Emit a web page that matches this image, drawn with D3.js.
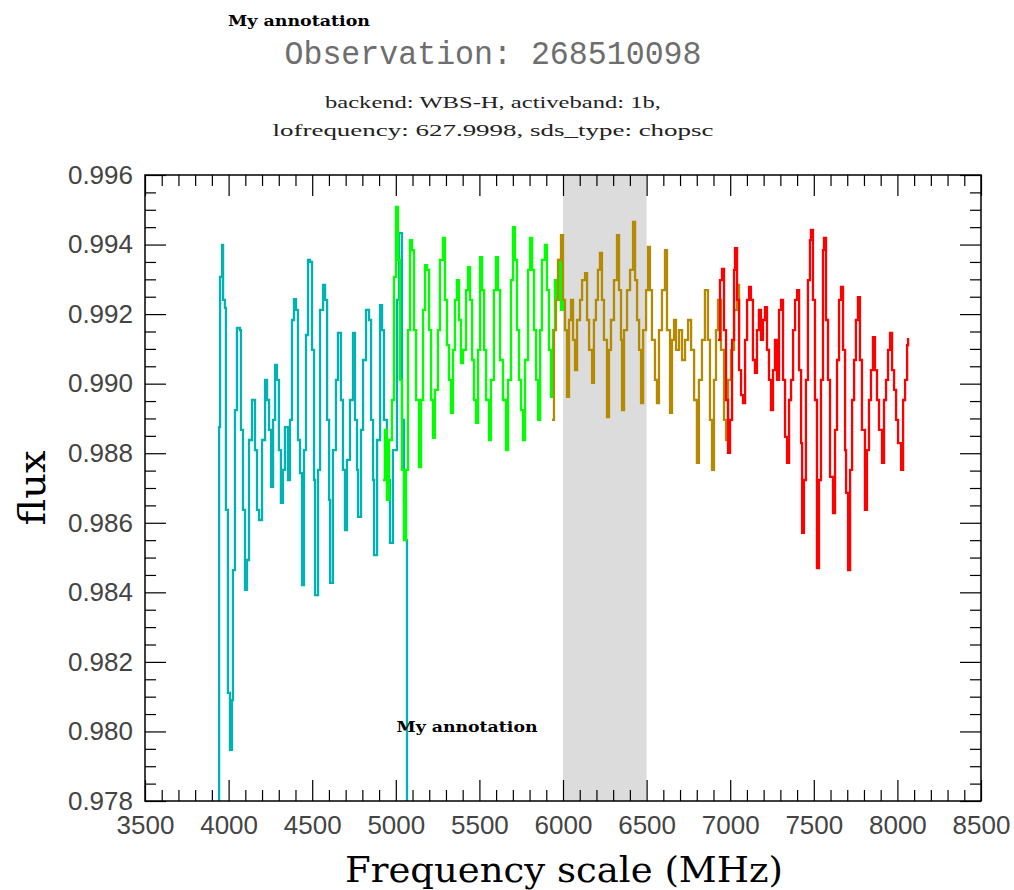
<!DOCTYPE html>
<html>
<head>
<meta charset="utf-8">
<script src="https://cdn.jsdelivr.net/npm/d3@7"></script>
<style>
  html, body { margin: 0; padding: 0; background: #fff; }
  svg { display: block; }
</style>
</head>
<body>
<script>
// ---------------- data ----------------
const cyanFreq = [3937,3943,3949,3961,3967,3978,3984,3996,4008,4020,4026,4038,4050,4068,4074,4086,4098,4110,4122,4140,4158,4170,4182,4200,4218,4230,4242,4254,4266,4278,4289,4301,4313,4325,4337,4355,4367,4379,4391,4403,4415,4427,4439,4451,4463,4475,4487,4499,4511,4517,4535,4547,4565,4577,4589,4601,4607,4624,4642,4654,4672,4684,4696,4708,4726,4744,4756,4768,4774,4792,4804,4822,4840,4852,4864,4870,4888,4906,4918,4929,4947,4965,4983,5007,5019,5037,5049,5061,5067];
const cyanFlux = [0.9752,0.98875,0.99307,0.99399,0.99241,0.99218,0.98637,0.98111,0.97947,0.98090,0.98464,0.98924,0.99160,0.99154,0.98867,0.98637,0.98407,0.98493,0.98838,0.98953,0.98809,0.98637,0.98608,0.98838,0.99011,0.98953,0.98867,0.98703,0.98896,0.99054,0.99011,0.98809,0.98657,0.98752,0.98875,0.98723,0.98896,0.99183,0.99243,0.99212,0.98838,0.98743,0.98421,0.98809,0.99140,0.99356,0.99350,0.99097,0.98723,0.98392,0.98752,0.99212,0.99284,0.99241,0.98896,0.98666,0.98427,0.98809,0.99011,0.99146,0.98953,0.98752,0.98579,0.98781,0.98953,0.99146,0.98896,0.98752,0.98617,0.98867,0.99068,0.99212,0.99183,0.98896,0.98723,0.98507,0.98838,0.99226,0.99154,0.98896,0.98723,0.98542,0.98809,0.99241,0.99433,0.98896,0.98666,0.98550,0.9752];

const greenFreq = [4923,4935,4947,4959,4977,4989,5001,5013,5025,5037,5049,5061,5073,5085,5097,5109,5121,5139,5151,5163,5175,5187,5199,5211,5223,5234,5252,5264,5282,5294,5306,5318,5330,5342,5354,5366,5378,5390,5402,5420,5432,5444,5456,5468,5480,5492,5504,5516,5528,5540,5558,5569,5587,5599,5611,5623,5641,5659,5671,5689,5701,5713,5725,5737,5749,5761,5773,5791,5803,5815,5827,5839,5851,5863,5874,5892,5904,5916,5928,5940,5952,5964,5976,5988,6000];
const greenFlux = [0.98723,0.98867,0.98666,0.98838,0.98953,0.99307,0.99508,0.99356,0.99011,0.98752,0.98550,0.98752,0.99154,0.99413,0.99384,0.99154,0.98953,0.98760,0.98953,0.99212,0.99341,0.99327,0.99154,0.98953,0.98844,0.98982,0.99154,0.99356,0.99419,0.99241,0.99111,0.99011,0.98916,0.99097,0.99241,0.99298,0.99183,0.99059,0.99097,0.99269,0.99335,0.99241,0.99068,0.98953,0.98887,0.99097,0.99364,0.99269,0.99097,0.98953,0.98838,0.99011,0.99269,0.99364,0.99269,0.99068,0.98953,0.98809,0.99011,0.99298,0.99450,0.99356,0.99154,0.99011,0.98924,0.98838,0.99068,0.99327,0.99419,0.99327,0.99154,0.99011,0.98896,0.99154,0.99356,0.99399,0.99269,0.99097,0.98962,0.99154,0.99298,0.99241,0.99356,0.99212,0.99241];

const oliveFreq = [5934,5946,5958,5970,5988,6000,6012,6024,6036,6048,6060,6072,6084,6102,6114,6132,6144,6156,6174,6185,6197,6209,6221,6233,6245,6263,6275,6287,6305,6323,6335,6347,6353,6365,6383,6401,6419,6431,6443,6455,6467,6479,6497,6508,6520,6532,6550,6562,6574,6592,6610,6622,6640,6652,6664,6676,6694,6712,6730,6748,6766,6784,6801,6813,6831,6849,6867,6879,6891,6903,6915,6927,6945,6963,6975,6987,7005,7023,7041,7053];
const oliveFlux = [0.98896,0.99154,0.99241,0.99356,0.99427,0.99241,0.99154,0.98962,0.99183,0.99241,0.99126,0.99039,0.99183,0.99241,0.99298,0.99318,0.99183,0.99097,0.99002,0.99183,0.99241,0.99327,0.99376,0.99241,0.99126,0.98904,0.99097,0.99183,0.99298,0.99427,0.99269,0.99126,0.98924,0.99154,0.99269,0.99327,0.99465,0.99298,0.99183,0.99097,0.98944,0.99154,0.99269,0.99393,0.99269,0.99126,0.99011,0.98944,0.99154,0.99269,0.99384,0.99154,0.98916,0.99126,0.99183,0.99097,0.99154,0.99068,0.99126,0.99183,0.99097,0.98953,0.98772,0.99011,0.99126,0.99269,0.99126,0.98896,0.98752,0.99011,0.99154,0.99241,0.99097,0.98896,0.98838,0.99011,0.99097,0.99212,0.99284,0.99154];

const redFreq = [6927,6939,6951,6963,6975,6987,6999,7011,7023,7029,7041,7053,7065,7077,7089,7101,7113,7124,7136,7148,7160,7172,7184,7196,7208,7220,7232,7244,7256,7268,7280,7292,7304,7316,7328,7340,7352,7364,7376,7388,7400,7412,7424,7430,7441,7453,7465,7477,7483,7495,7507,7519,7531,7543,7555,7561,7573,7585,7597,7615,7627,7639,7651,7663,7675,7687,7693,7705,7717,7729,7741,7752,7764,7776,7788,7806,7818,7830,7842,7854,7866,7878,7890,7908,7920,7932,7944,7956,7968,7980,7992,8004,8022,8034,8046,8058,8064];
const redFlux = [0.99126,0.99298,0.99330,0.99154,0.98953,0.98801,0.98896,0.99126,0.99327,0.99390,0.99241,0.99039,0.98967,0.98944,0.99126,0.99241,0.99278,0.99241,0.99068,0.99031,0.99154,0.99212,0.99126,0.99183,0.99220,0.99097,0.99011,0.98924,0.99039,0.99126,0.99011,0.99212,0.99241,0.99011,0.98847,0.98772,0.98953,0.99011,0.99154,0.99241,0.99269,0.99039,0.98829,0.98571,0.98723,0.99011,0.99298,0.99413,0.99442,0.99241,0.98953,0.98470,0.98723,0.99011,0.99384,0.99419,0.99183,0.99011,0.98732,0.98628,0.98867,0.99068,0.99241,0.99278,0.99097,0.98809,0.98686,0.98464,0.98752,0.98953,0.99068,0.99183,0.99249,0.99068,0.98867,0.98637,0.98809,0.98953,0.99039,0.99134,0.99039,0.98953,0.98867,0.98772,0.98953,0.99011,0.99097,0.99146,0.99039,0.98982,0.98896,0.98829,0.98752,0.98953,0.99011,0.99111,0.99131];

const xTicks = [3500,4000,4500,5000,5500,6000,6500,7000,7500,8000,8500];
const yTicks = [0.978,0.980,0.982,0.984,0.986,0.988,0.990,0.992,0.994,0.996];
const bandRange = [6000, 6500];

const titleText = "Observation: 268510098";
const subtitleLines = ["backend: WBS-H, activeband: 1b,", "lofrequency: 627.9998, sds_type: chopsc"];
const annotationText = "My annotation";
const annotationPos = [5070, 0.9800];
const xLabel = "Frequency scale (MHz)";
const yLabel = "flux";

// ---------------- layout ----------------
const W = 1014, H = 890;
const L = 145, R = 981, T = 175, B = 801;

const svg = d3.select("body").append("svg").attr("width", W).attr("height", H);

const x = d3.scaleLinear().domain([3500, 8500]).range([L, R]);
const y = d3.scaleLinear().domain([0.978, 0.996]).range([B, T]);

svg.append("defs").append("clipPath").attr("id", "plotclip")
  .append("rect").attr("x", L).attr("y", T).attr("width", R - L).attr("height", B - T);

// band
svg.append("rect")
  .attr("x", x(bandRange[0])).attr("y", T)
  .attr("width", x(bandRange[1]) - x(bandRange[0])).attr("height", B - T)
  .attr("fill", "#dcdcdc");

// series
const series = [
  {f: cyanFreq, v: cyanFlux, c: "#00b3b3"},
  {f: greenFreq, v: greenFlux, c: "#00ff00"},
  {f: oliveFreq, v: oliveFlux, c: "#b38a00"},
  {f: redFreq, v: redFlux, c: "#ff0000"}
];
const line = d3.line().x(d => x(d[0])).y(d => y(d[1])).curve(d3.curveStepAfter);
const g = svg.append("g").attr("clip-path", "url(#plotclip)");
series.forEach(s => {
  const pts = s.f.map((f, i) => [f, s.v[i]]);
  g.append("path").datum(pts).attr("d", line)
    .attr("fill", "none").attr("stroke", s.c).attr("stroke-width", 2.3)
    .attr("stroke-linejoin", "miter");
});

// axes
const xMinor = d3.range(3500, 8501, 100).filter(v => v % 500 !== 0);
const yMinor = d3.range(0, 37).map(i => 0.978 + i * 0.0005).filter((v, i) => i % 4 !== 0);
const tickFont = "'Liberation Sans', Arial, sans-serif";

function styleAxis(sel) {
  sel.select(".domain").remove();
  sel.selectAll(".tick line").attr("stroke", "#000").attr("stroke-width", 1.2);
  sel.selectAll("text").attr("font-family", tickFont).attr("font-size", 26).attr("fill", "#444");
}

svg.append("g").attr("transform", `translate(0,${B})`)
  .call(d3.axisBottom(x).tickValues(xTicks).tickSize(-21).tickPadding(15).tickFormat(d3.format("d")))
  .call(styleAxis);
svg.append("g").attr("transform", `translate(0,${B})`)
  .call(d3.axisBottom(x).tickValues(xMinor).tickSize(-11).tickFormat(""))
  .call(styleAxis);
svg.append("g").attr("transform", `translate(0,${T})`)
  .call(d3.axisTop(x).tickValues(xTicks).tickSize(-21).tickFormat(""))
  .call(styleAxis);
svg.append("g").attr("transform", `translate(0,${T})`)
  .call(d3.axisTop(x).tickValues(xMinor).tickSize(-11).tickFormat(""))
  .call(styleAxis);

svg.append("g").attr("transform", `translate(${L},0)`)
  .call(d3.axisLeft(y).tickValues(yTicks).tickSize(-21).tickPadding(12).tickFormat(d3.format(".3f")))
  .call(styleAxis);
svg.append("g").attr("transform", `translate(${L},0)`)
  .call(d3.axisLeft(y).tickValues(yMinor).tickSize(-11).tickFormat(""))
  .call(styleAxis);
svg.append("g").attr("transform", `translate(${R},0)`)
  .call(d3.axisRight(y).tickValues(yTicks).tickSize(-21).tickFormat(""))
  .call(styleAxis);
svg.append("g").attr("transform", `translate(${R},0)`)
  .call(d3.axisRight(y).tickValues(yMinor).tickSize(-11).tickFormat(""))
  .call(styleAxis);

// frame
svg.append("rect").attr("x", L).attr("y", T).attr("width", R - L).attr("height", B - T)
  .attr("fill", "none").attr("stroke", "#000").attr("stroke-width", 1.5);

// titles
svg.append("text").attr("x", 493).attr("y", 64).attr("text-anchor", "middle")
  .attr("font-family", "'Liberation Mono', 'DejaVu Sans Mono', monospace").attr("font-size", 34)
  .attr("fill", "#6e6e6e").attr("textLength", 417).attr("lengthAdjust", "spacingAndGlyphs")
  .text(titleText);

const subW = [336, 441];
subtitleLines.forEach((t, i) => {
  svg.append("text").attr("x", 493).attr("y", 108 + i * 28).attr("text-anchor", "middle")
    .attr("font-family", "'Liberation Serif', 'DejaVu Serif', serif").attr("font-size", 17)
    .attr("fill", "#222").attr("textLength", subW[i]).attr("lengthAdjust", "spacingAndGlyphs")
    .text(t);
});

svg.append("text").attr("x", 228).attr("y", 26)
  .attr("font-family", "'DejaVu Serif', serif").attr("font-size", 15).attr("font-weight", "bold")
  .attr("fill", "#000").attr("textLength", 142).attr("lengthAdjust", "spacingAndGlyphs")
  .text(annotationText);

svg.append("text").attr("x", x(annotationPos[0]) - 11).attr("y", y(annotationPos[1]) + 1)
  .attr("font-family", "'DejaVu Serif', serif").attr("font-size", 15).attr("font-weight", "bold")
  .attr("fill", "#000").attr("textLength", 141).attr("lengthAdjust", "spacingAndGlyphs")
  .text(annotationText);

// axis labels
svg.append("text").attr("x", 564).attr("y", 882).attr("text-anchor", "middle")
  .attr("font-family", "'DejaVu Serif', serif").attr("font-size", 36)
  .attr("fill", "#000").attr("textLength", 438).attr("lengthAdjust", "spacingAndGlyphs")
  .text(xLabel);

svg.append("text").attr("transform", "translate(45,488) rotate(-90)").attr("text-anchor", "middle")
  .attr("font-family", "'DejaVu Serif', serif").attr("font-size", 38)
  .attr("fill", "#000").attr("textLength", 75).attr("lengthAdjust", "spacingAndGlyphs")
  .text(yLabel);
</script>
</body>
</html>
